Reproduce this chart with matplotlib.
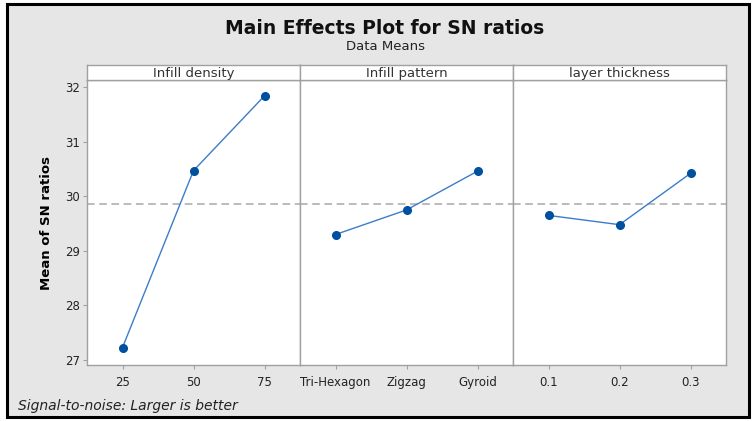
import matplotlib.pyplot as plt
from matplotlib.patches import Rectangle

## factor names and levels
factors = ['Infill density', 'Infill pattern', 'layer thickness']
levels = [['25', '50', '75'],
          ['Tri-Hexagon', 'Zigzag', 'Gyroid'],
          ['0.1', '0.2', '0.3']]

## mean SN ratio per level
density_sn = [27.23, 30.47, 31.84]
pattern_sn = [29.30, 29.75, 30.46]
thickness_sn = [29.65, 29.48, 30.42]
grand_mean = 29.85

all_sn = [density_sn, pattern_sn, thickness_sn]
yticks = [27, 28, 29, 30, 31, 32]

plt.rcParams['font.family'] = 'DejaVu Sans'
fig = plt.figure(figsize=(7.52, 4.21), dpi=100, facecolor='white')

# gray background with black frame
frame = Rectangle((7/752, 4/421), 742/752, 413/421, transform=fig.transFigure,
                  facecolor='#e6e6e6', edgecolor='black', linewidth=2.2, zorder=-5)
fig.add_artist(frame)

left = 87/752
width = 213/752
bottom = 1 - 365/421
height = (365 - 80)/421
strip_h = 15/421
edge = '#a0a0a0'

for i in range(3):
    ax = fig.add_axes([left + i*width, bottom, width, height])
    ax.set_facecolor('white')
    x = [1, 2, 3]
    ax.axhline(grand_mean, color='#a8a8a8', linestyle=(0, (5, 3)), linewidth=1.1, zorder=1)
    ax.plot(x, all_sn[i], color='#3d7cc9', linewidth=1, marker='o', markersize=5.5,
            markerfacecolor='#0050a0', markeredgecolor='#0050a0', zorder=3)
    ax.set_xlim(0.5, 3.5)
    ax.set_ylim(26.91, 32.13)
    ax.set_xticks(x)
    ax.set_xticklabels(levels[i], fontsize=8.5)
    for s in ax.spines.values():
        s.set_color(edge)
        s.set_linewidth(1)
    ax.tick_params(axis='x', color=edge, length=3, pad=5, labelcolor='#222222')
    if i == 0:
        ax.set_yticks(yticks)
        ax.set_yticklabels([str(t) for t in yticks], fontsize=8.5)
        ax.tick_params(axis='y', color=edge, length=3, pad=2, labelcolor='#222222')
        ax.set_ylabel('Mean of SN ratios', fontsize=9.5, fontweight='bold', labelpad=9)
    else:
        ax.set_yticks([])

    # strip with factor name
    sax = fig.add_axes([left + i*width, bottom + height, width, strip_h])
    sax.set_facecolor('white')
    sax.set_xticks([])
    sax.set_yticks([])
    for s in sax.spines.values():
        s.set_color(edge)
        s.set_linewidth(1)
    sax.text(0.5, 0.42, factors[i], ha='center', va='center', fontsize=9.5,
             color='#333333', transform=sax.transAxes)

fig.text(0.512, 1 - 28/421, 'Main Effects Plot for SN ratios', ha='center', va='center',
         fontsize=13.5, fontweight='bold', color='#111111')
fig.text(0.512, 1 - 47/421, 'Data Means', ha='center', va='center', fontsize=9.5, color='#222222')
fig.text(18/752, 1 - 406/421, 'Signal-to-noise: Larger is better', ha='left', va='center',
         fontsize=10, style='italic', color='#222222')

fig.savefig('out.png', dpi=100)
